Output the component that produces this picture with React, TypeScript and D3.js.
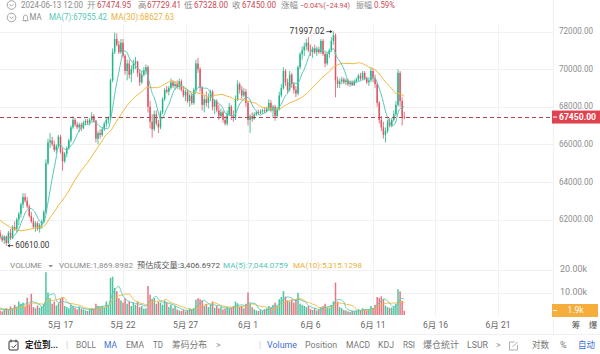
import * as d3 from "d3";
import React, { useEffect, useRef } from "react";

// 4h candles, the first one opens 2024-05-12 04:00
const firstCandle = new Date(2024, 4, 12, 4);
const stepHours = 4;

// closes before the visible window, only used to warm up MA(7)/MA(30)
const priorCloses = [
  63500, 63300, 63000, 63200, 63400, 63100, 62900, 63000, 63200, 63300,
  62800, 62500, 62000, 61500, 61200, 61000, 60900, 61200, 61100, 61300,
  61400, 61200, 61000, 61100, 61300, 61200, 61000, 60900, 61100,
];
const priorVolumes = [3200, 2800, 4100, 3600, 2500, 3000, 2200, 2700, 3400];

const opens = [
  61300, 61050, 60900, 61100, 60750, 61300, 61000, 61600, 61500, 62000,
  62300, 62800, 63200, 63000, 62700, 62200, 61900, 61600, 61800, 61500,
  61700, 61900, 62400, 65000, 66100, 66200, 66000, 65700, 65900, 66400,
  65600, 65100, 65500, 65800, 66200, 66900, 67300, 67050, 66900, 67050,
  66850, 67150, 67250, 67150, 67300, 67500, 67250, 66300, 66600, 66500,
  66800, 67100, 67300, 67400, 69400, 70900, 71600, 71300, 70900, 71400,
  70700, 69900, 70300, 69700, 70000, 70300, 70400, 69800, 69300, 69700,
  69900, 70100, 68000, 67200, 66800, 67600, 67100, 66900, 67700, 68400,
  68900, 68800, 69000, 69300, 69100, 69200, 69050, 69350, 68900, 68600,
  68800, 68300, 68600, 68200, 68900, 70300, 70000, 69000, 68100, 68400,
  68200, 68500, 68800, 68000, 68300, 67800, 67500, 67700, 67300, 67100,
  67600, 68000, 67500, 67400, 68400, 69200, 68900, 68600, 68800, 68200,
  67300, 67500, 67350, 67600, 67700, 67650, 67750, 67800, 67750, 67900,
  68200, 67800, 68000, 67500, 67850, 68600, 69000, 69900, 69300, 68900,
  69700, 69200, 68900, 68700, 70100, 70800, 71000, 71200, 71400, 71000,
  70900, 71100, 70900, 71050, 70900, 71500, 70800, 70300, 70800, 71000,
  71500, 71800, 69400, 69200, 69350, 69450, 69300, 69400, 69200, 69300,
  69150, 69350, 69450, 69650, 69500, 69800, 69500, 69300, 69400, 69900,
  69500, 69200, 68200, 67300, 66900, 66500, 66700, 67200, 67000, 67300,
  67600, 68100, 69800, 68300, 67474.95,
];
const highs = [
  61450, 61200, 61150, 61150, 61400, 61500, 61700, 61900, 62100, 62400,
  62900, 63400, 63400, 63200, 62800, 62400, 62100, 61900, 61900, 61800,
  62000, 62500, 65200, 66300, 66600, 66400, 66200, 66000, 66500, 66500,
  65800, 65600, 65900, 66300, 67000, 67500, 67400, 67200, 67150, 67150,
  67250, 67350, 67350, 67400, 67700, 67600, 67300, 66700, 66800, 66900,
  67200, 67400, 67500, 69500, 71100, 71950, 71900, 71500, 71600, 71600,
  70800, 70500, 70500, 70200, 70500, 70650, 70450, 70000, 69900, 70100,
  70250, 70200, 68300, 67600, 67800, 67800, 67300, 67800, 68500, 69000,
  69100, 69100, 69500, 69400, 69350, 69400, 69500, 69450, 69100, 68900,
  68900, 68700, 68700, 69000, 70500, 70600, 70100, 69100, 68600, 68800,
  68700, 68900, 68900, 68400, 68400, 68100, 67900, 67800, 67500, 67800,
  68200, 68100, 67800, 68600, 69400, 69300, 69100, 69000, 68950, 68300,
  67600, 67700, 67700, 67800, 67850, 67850, 67900, 67950, 68000, 68400,
  68350, 68100, 68100, 68000, 68800, 69200, 70100, 70000, 69500, 69900,
  69800, 69300, 69100, 70200, 70900, 71200, 71400, 71600, 71700, 71300,
  71200, 71300, 71200, 71200, 71600, 71600, 70900, 70900, 71100, 71700,
  71997.02, 71900, 69600, 69500, 69600, 69550, 69500, 69500, 69400, 69400,
  69450, 69550, 69750, 69800, 69900, 69900, 69600, 69500, 70100, 70000,
  69700, 69300, 68300, 67500, 67200, 66900, 67300, 67400, 67400, 67800,
  68300, 70000, 69900, 68500, 67729.41,
];
const lows = [
  60950, 60800, 60700, 60610, 60700, 60900, 60950, 61400, 61300, 61700,
  62100, 62600, 62900, 62600, 62100, 61800, 61500, 61350, 61400, 61300,
  61500, 61800, 62300, 64900, 65800, 65900, 65600, 65500, 65800, 65500,
  64600, 65000, 65300, 65700, 66100, 66800, 66950, 66800, 66650, 66700,
  66800, 67000, 67050, 67000, 67200, 67150, 66100, 66000, 66300, 66400,
  66700, 66900, 67100, 67300, 69300, 70800, 71200, 70800, 70800, 70600,
  69700, 69400, 69500, 69300, 69800, 70000, 69600, 69100, 69200, 69600,
  69700, 67700, 66850, 66350, 66700, 67000, 66600, 66800, 67600, 68300,
  68700, 68600, 68900, 69000, 68900, 68950, 68900, 68800, 68500, 68300,
  68200, 68000, 68100, 68100, 68800, 69800, 68800, 67800, 67700, 68000,
  67900, 68300, 67800, 67600, 67700, 67300, 67400, 67150, 67000, 67000,
  67500, 67300, 67200, 67300, 68300, 68700, 68400, 68500, 68000, 67000,
  66600, 67200, 67300, 67500, 67550, 67600, 67600, 67650, 67700, 67800,
  67700, 67400, 67250, 67400, 67800, 68500, 68900, 69100, 68700, 68800,
  69000, 68700, 68500, 68600, 70000, 70500, 70700, 71000, 70900, 70700,
  70600, 70800, 70700, 70800, 70800, 70700, 70100, 70200, 70600, 70900,
  71300, 68500, 69000, 69000, 69200, 69200, 69150, 69100, 69050, 69100,
  69100, 69250, 69350, 69400, 69400, 69400, 69200, 69100, 69300, 69300,
  69000, 68000, 67100, 66700, 66300, 66100, 66600, 66900, 66900, 67200,
  67500, 68000, 68000, 67000, 67328,
];
const closes = [
  61050, 60900, 61100, 60750, 61300, 61000, 61600, 61500, 62000, 62300,
  62800, 63200, 63000, 62700, 62200, 61900, 61600, 61800, 61500, 61700,
  61900, 62400, 65000, 66100, 66200, 66000, 65700, 65900, 66400, 65600,
  65100, 65500, 65800, 66200, 66900, 67300, 67050, 66900, 67050, 66850,
  67150, 67250, 67150, 67300, 67500, 67250, 66300, 66600, 66500, 66800,
  67100, 67300, 67400, 69400, 70900, 71600, 71300, 70900, 71400, 70700,
  69900, 70300, 69700, 70000, 70300, 70400, 69800, 69300, 69700, 69900,
  70100, 68000, 67200, 66800, 67600, 67100, 66900, 67700, 68400, 68900,
  68800, 69000, 69300, 69100, 69200, 69050, 69350, 68900, 68600, 68800,
  68300, 68600, 68200, 68900, 70300, 70000, 69000, 68100, 68400, 68200,
  68500, 68800, 68000, 68300, 67800, 67500, 67700, 67300, 67100, 67600,
  68000, 67500, 67400, 68400, 69200, 68900, 68600, 68800, 68200, 67300,
  67500, 67350, 67600, 67700, 67650, 67750, 67800, 67750, 67900, 68200,
  67800, 68000, 67500, 67850, 68600, 69000, 69900, 69300, 68900, 69700,
  69200, 68900, 68700, 70100, 70800, 71000, 71200, 71400, 71000, 70900,
  71100, 70900, 71050, 70900, 71500, 70800, 70300, 70800, 71000, 71500,
  71800, 69400, 69200, 69350, 69450, 69300, 69400, 69200, 69300, 69150,
  69350, 69450, 69650, 69500, 69800, 69500, 69300, 69400, 69900, 69500,
  69200, 68200, 67300, 66900, 66500, 66700, 67200, 67000, 67300, 67600,
  68100, 69800, 68300, 67474.94, 67450,
];
const volumes = [
  2000, 1600, 2300, 3000, 2500, 3800, 2800, 4500, 3500, 6000,
  5000, 5500, 3800, 7600, 4500, 9400, 3500, 3000, 4200, 3200,
  3800, 5000, 19000, 10000, 7500, 5000, 6000, 4200, 5200, 7500,
  8000, 4000, 3500, 3000, 4500, 4000, 3200, 2500, 3600, 2800,
  2500, 2000, 1800, 2600, 3000, 2800, 5000, 4000, 3500, 4000,
  3500, 6000, 4500, 16500, 17000, 12000, 10600, 7500, 6500, 5500,
  7500, 5000, 6000, 4000, 5500, 4500, 6000, 3500, 4000, 2800,
  3000, 12900, 9000, 7000, 7500, 5000, 6000, 5500, 4500, 6500,
  5500, 3500, 4500, 3000, 4000, 2500, 2000, 1800, 2300, 1600,
  2000, 3000, 2500, 3000, 6800, 7500, 7000, 6500, 4000, 5000,
  3500, 4500, 6000, 3200, 4000, 3000, 3500, 2500, 2800, 3500,
  3000, 3200, 4000, 6000, 5200, 3500, 4000, 3000, 5000, 10000,
  5000, 3500, 2500, 2000, 1800, 2200, 1800, 2500, 3000, 4000,
  3500, 4500, 5500, 4000, 7000, 8000, 10600, 8200, 6500, 6000,
  6800, 5500, 7000, 9800, 5000, 4500, 4000, 3500, 4000, 2600,
  2200, 3000, 2000, 2500, 3500, 4000, 5000, 3200, 3000, 4500,
  6000, 14400, 6000, 3500, 3000, 2200, 2000, 1600, 1400, 1800,
  1600, 2000, 2500, 2200, 3000, 2400, 2000, 2600, 4000, 3000,
  4500, 8000, 7600, 8300, 7000, 4200, 3500, 3100, 3300, 3830,
  5000, 11500, 10500, 6350, 1869.8982,
];

const priceTicks = [62000, 64000, 66000, 68000, 70000, 72000];
const volumeTicks = [10000, 20000];
const dateTicks = [
  new Date(2024, 4, 17), new Date(2024, 4, 22), new Date(2024, 4, 27),
  new Date(2024, 5, 1), new Date(2024, 5, 6), new Date(2024, 5, 11),
  new Date(2024, 5, 16), new Date(2024, 5, 21),
];
const lastPrice = 67450;
// legend readouts as printed in the terminal
const headerMa = ["MA(7):67955.42", "MA(30):68627.63"];
const volumeLegend = ["预估成交量:3,406.6972", "MA(5):7,044.0759", "MA(10):5,315.1298"];

const GREEN = "#22b58a";
const RED = "#de5563";
const MA_SHORT = "#56c8b6";
const MA_LONG = "#f0b83c";
const FONT = "Roboto, 'Noto Sans CJK SC', sans-serif";

function movingAverage(values: number[], n: number, skip: number) {
  const out: (number | null)[] = [];
  for (let i = skip; i < values.length; i++) {
    out.push(i < n - 1 ? null : (d3.mean(values.slice(i - n + 1, i + 1)) as number));
  }
  return out;
}

export default function App() {
  const ref = useRef<SVGSVGElement>(null);

  useEffect(() => {
    const width = 600;
    const height = 354;
    const plotRight = 553;
    const svg = d3.select(ref.current);
    svg.selectAll("*").remove();
    svg.attr("width", width).attr("height", height);

    const times = closes.map((_, i) => new Date(firstCandle.getTime() + i * stepHours * 3600e3));

    const x = d3
      .scaleTime()
      .domain([new Date(2024, 4, 17), new Date(2024, 5, 11)])
      .range([60.5, 373]);
    const y = d3.scaleLinear().domain([62000, 72000]).range([219.5, 31.5]);
    const yVol = d3.scaleLinear().domain([0, 20000]).range([315, 270]);

    // text helper; w squeezes the string into a measured width
    const text = (
      g: any,
      px: number,
      py: number,
      str: string,
      fill: string,
      size = 8.5,
      anchor = "start",
      w = 0,
      weight = "normal"
    ) => {
      const t = g
        .append("text")
        .attr("x", px)
        .attr("y", py)
        .attr("fill", fill)
        .attr("font-size", size)
        .attr("font-family", FONT)
        .attr("font-weight", weight)
        .attr("text-anchor", anchor)
        .attr("dominant-baseline", "middle")
        .text(str);
      if (w) t.attr("textLength", w).attr("lengthAdjust", "spacingAndGlyphs");
      return t;
    };

    svg.append("rect").attr("width", width).attr("height", height).attr("fill", "#fff");

    // grid
    const grid = svg.append("g").attr("stroke", "#f1f1f1").attr("stroke-width", 1);
    dateTicks.forEach((d) => {
      const gx = Math.round(x(d)) + 0.5;
      grid.append("line").attr("x1", gx).attr("x2", gx).attr("y1", 25).attr("y2", 316);
    });
    priceTicks.forEach((p) => {
      grid.append("line").attr("x1", 0).attr("x2", plotRight).attr("y1", Math.round(y(p)) + 0.5).attr("y2", Math.round(y(p)) + 0.5);
    });
    volumeTicks.forEach((v) => {
      grid.append("line").attr("x1", 0).attr("x2", plotRight).attr("y1", Math.round(yVol(v)) + 0.5).attr("y2", Math.round(yVol(v)) + 0.5);
    });
    grid.append("line").attr("x1", plotRight + 0.5).attr("x2", plotRight + 0.5).attr("y1", 0).attr("y2", 334);
    grid.append("line").attr("x1", 0).attr("x2", width).attr("y1", 334.5).attr("y2", 334.5);

    // clip panes
    const defs = svg.append("defs");
    defs.append("clipPath").attr("id", "pricePane").append("rect").attr("x", 0).attr("y", 24).attr("width", plotRight).attr("height", 230);
    defs.append("clipPath").attr("id", "volPane").append("rect").attr("x", 0).attr("y", 260).attr("width", plotRight).attr("height", 56);

    // candles
    const candles = svg.append("g").attr("clip-path", "url(#pricePane)");
    closes.forEach((c, i) => {
      const cx = x(times[i]);
      const up = c >= opens[i];
      const col = up ? GREEN : RED;
      candles
        .append("line")
        .attr("x1", cx)
        .attr("x2", cx)
        .attr("y1", y(highs[i]))
        .attr("y2", y(lows[i]))
        .attr("stroke", col)
        .attr("stroke-width", 0.8);
      const top = y(Math.max(c, opens[i]));
      const bot = y(Math.min(c, opens[i]));
      candles
        .append("rect")
        .attr("x", cx - 0.75)
        .attr("width", 1.5)
        .attr("y", top)
        .attr("height", Math.max(0.8, bot - top))
        .attr("fill", col);
    });

    // moving averages on price
    const allCloses = [...priorCloses, ...closes];
    const ma7 = movingAverage(allCloses, 7, priorCloses.length);
    const ma30 = movingAverage(allCloses, 30, priorCloses.length);
    const priceLine = d3
      .line<number | null>()
      .defined((d) => d != null)
      .x((_, i) => x(times[i]))
      .y((d) => y(d as number))
      .curve(d3.curveMonotoneX);
    candles.append("path").attr("d", priceLine(ma30)).attr("fill", "none").attr("stroke", MA_LONG).attr("stroke-width", 1);
    candles.append("path").attr("d", priceLine(ma7)).attr("fill", "none").attr("stroke", MA_SHORT).attr("stroke-width", 1);

    // last price line
    svg
      .append("line")
      .attr("x1", 0)
      .attr("x2", plotRight)
      .attr("y1", Math.round(y(lastPrice)) + 0.5)
      .attr("y2", Math.round(y(lastPrice)) + 0.5)
      .attr("stroke", "#b9434d")
      .attr("stroke-dasharray", "4,3")
      .attr("stroke-width", 1);

    // high / low markers
    const hiIdx = d3.maxIndex(highs);
    const loIdx = d3.minIndex(lows);
    const hx = x(times[hiIdx]);
    const hy = y(highs[hiIdx]);
    text(svg, hx - 9, hy, d3.format(".2f")(highs[hiIdx]), "#333", 8.5, "end", 35);
    svg.append("line").attr("x1", hx - 7).attr("x2", hx - 2).attr("y1", hy).attr("y2", hy).attr("stroke", "#333").attr("stroke-width", 0.8);
    svg.append("path").attr("d", `M${hx - 1},${hy} l-2.5,-1.6 v3.2 z`).attr("fill", "#333");
    const lx = x(times[loIdx]);
    const ly = y(lows[loIdx]);
    svg.append("line").attr("x1", lx + 2).attr("x2", lx + 7).attr("y1", ly).attr("y2", ly).attr("stroke", "#333").attr("stroke-width", 0.8);
    svg.append("path").attr("d", `M${lx + 1},${ly} l2.5,-1.6 v3.2 z`).attr("fill", "#333");
    text(svg, lx + 9, ly, d3.format(".2f")(lows[loIdx]), "#333", 8.5, "start", 34);

    // volume
    const vol = svg.append("g").attr("clip-path", "url(#volPane)");
    volumes.forEach((v, i) => {
      const cx = x(times[i]);
      const up = closes[i] >= opens[i];
      vol
        .append("rect")
        .attr("x", cx - 0.75)
        .attr("width", 1.5)
        .attr("y", yVol(v))
        .attr("height", yVol(0) - yVol(v))
        .attr("fill", up ? GREEN : RED)
        .attr("opacity", 0.8);
    });
    const allVols = [...priorVolumes, ...volumes];
    const vma5 = movingAverage(allVols, 5, priorVolumes.length);
    const vma10 = movingAverage(allVols, 10, priorVolumes.length);
    const volLine = d3
      .line<number | null>()
      .defined((d) => d != null)
      .x((_, i) => x(times[i]))
      .y((d) => yVol(d as number))
      .curve(d3.curveMonotoneX);
    vol.append("path").attr("d", volLine(vma10)).attr("fill", "none").attr("stroke", MA_LONG).attr("stroke-width", 0.9);
    vol.append("path").attr("d", volLine(vma5)).attr("fill", "none").attr("stroke", MA_SHORT).attr("stroke-width", 0.9);

    // price axis
    priceTicks.forEach((p) => text(svg, 559, y(p) + 0.5, d3.format(".2f")(p), "#8c8c8c", 8.5, "start", 34));
    svg.append("rect").attr("x", 552).attr("y", y(lastPrice) - 6.5).attr("width", 48).attr("height", 13).attr("fill", "#e0434f");
    svg.append("line").attr("x1", 553).attr("x2", 557).attr("y1", y(lastPrice)).attr("y2", y(lastPrice)).attr("stroke", "#fff");
    text(svg, 559, y(lastPrice) + 0.5, d3.format(".2f")(lastPrice), "#fff", 8.5, "start", 37, "bold");

    // volume axis
    volumeTicks.forEach((v) => text(svg, 560, yVol(v), d3.format(".2f")(v / 1000) + "k", "#8c8c8c", 8.5, "start", 27));
    const lastVol = volumes[volumes.length - 1];
    svg.append("rect").attr("x", 552).attr("y", 304).attr("width", 46).attr("height", 13).attr("fill", "#f5ad3b");
    svg.append("line").attr("x1", 553).attr("x2", 557).attr("y1", 310.5).attr("y2", 310.5).attr("stroke", "#fff");
    text(svg, 575.5, 311, d3.format(".1f")(lastVol / 1000) + "k", "#fff", 8.5, "middle");

    // date axis
    const fmtDate = (d: Date) => `${d.getMonth() + 1}月 ${d.getDate()}`;
    dateTicks.forEach((d) => text(svg, x(d), 326, fmtDate(d), "#666", 8.5, "middle"));
    text(svg, 576, 326, "筹", "#555", 8.5, "middle");
    text(svg, 593, 326, "爆", "#555", 8.5, "middle");

    // header line 1
    const hdr = svg.append("g");
    const chevronIcon = (cx: number, cy: number) => {
      hdr.append("circle").attr("cx", cx).attr("cy", cy).attr("r", 4.3).attr("fill", "none").attr("stroke", "#999").attr("stroke-width", 0.9);
      hdr.append("path").attr("d", `M${cx - 2},${cy - 0.8} l2,2 l2,-2`).attr("fill", "none").attr("stroke", "#999").attr("stroke-width", 0.9);
    };
    chevronIcon(11.5, 5);
    const lastIdx = closes.length - 1;
    const prevClose = closes[lastIdx - 1];
    const chg = closes[lastIdx] - prevClose;
    const gray = "#8a8a8a";
    const red = "#c94b55";
    const f2 = d3.format(".2f");
    text(hdr, 21, 5.5, "2024-06-13 12:00", gray, 8.5, "start", 62);
    text(hdr, 87, 5.5, "开", gray);
    text(hdr, 97, 5.5, f2(opens[lastIdx]), red, 8.5, "start", 34);
    text(hdr, 138, 5.5, "高", gray);
    text(hdr, 147, 5.5, f2(highs[lastIdx]), red, 8.5, "start", 34);
    text(hdr, 184, 5.5, "低", gray);
    text(hdr, 194, 5.5, f2(lows[lastIdx]), red, 8.5, "start", 34);
    text(hdr, 232, 5.5, "收", gray);
    text(hdr, 242, 5.5, f2(closes[lastIdx]), red, 8.5, "start", 34);
    text(hdr, 281, 5.5, "涨幅", gray, 8.5, "start", 17);
    text(hdr, 300, 5.5, `${f2((chg / prevClose) * 100)}%(${f2(chg)})`, red, 7.6, "start", 50);
    text(hdr, 356, 5.5, "振幅", gray, 8.5, "start", 16);
    text(hdr, 374, 5.5, f2(((highs[lastIdx] - lows[lastIdx]) / prevClose) * 100) + "%", red, 8.5, "start", 21);

    // header line 2
    chevronIcon(11.5, 17.5);
    hdr
      .append("path")
      .attr("d", "M22.5,20.5 h6 l-1,-1.3 v-2.2 a2,2 0 0 0 -4,0 v2.2 z M24.8,21.3 h1.4")
      .attr("fill", "none")
      .attr("stroke", "#999")
      .attr("stroke-width", 0.8);
    text(hdr, 29.5, 18, "MA", gray, 8.5, "start", 12);
    text(hdr, 49, 18, headerMa[0], MA_SHORT, 8.5, "start", 58);
    text(hdr, 111, 18, headerMa[1], "#eab13c", 8.5, "start", 63);

    // volume header
    text(hdr, 10, 266, "VOLUME", gray, 8, "start", 32);
    hdr.append("path").attr("d", "M48.5,265 h4.5 l-2.25,2.5 z").attr("fill", gray);
    text(hdr, 59, 266, "VOLUME:" + d3.format(",.4f")(lastVol), gray, 8, "start", 74);
    text(hdr, 137, 266, volumeLegend[0], "#555", 8, "start", 83);
    text(hdr, 223, 266, volumeLegend[1], MA_SHORT, 8, "start", 65);
    text(hdr, 293, 266, volumeLegend[2], "#eab13c", 8, "start", 69);

    // bottom toolbar
    const bar = svg.append("g");
    bar.append("rect").attr("x", 9).attr("y", 341).attr("width", 9).attr("height", 9).attr("rx", 1).attr("fill", "none").attr("stroke", "#333").attr("stroke-width", 1);
    bar.append("path").attr("d", "M11,339.5 v3 M16,339.5 v3 M11.5,346 l1.8,1.8 l3,-3.2").attr("fill", "none").attr("stroke", "#333").attr("stroke-width", 0.9);
    text(bar, 25, 346, "定位到...", "#222", 9, "start", 33, "bold");
    text(bar, 66, 346, "|", "#ccc", 9);
    const tools: [number, string, string, number][] = [
      [76, "BOLL", "#777", 20], [104, "MA", "#3e6fd8", 13], [126, "EMA", "#777", 18], [153, "TD", "#777", 10],
      [172, "筹码分布", "#777", 35], [216, ">", "#999", 0], [259, "|", "#ccc", 0], [267, "Volume", "#3e6fd8", 30],
      [305, "Position", "#777", 32], [346, "MACD", "#777", 24], [378, "KDJ", "#777", 16], [403, "RSI", "#777", 12],
      [423, "爆仓统计", "#777", 36], [467, "LSUR", "#777", 21], [496, ">", "#999", 0], [532, "对数", "#777", 17],
      [560, "%", "#777", 0], [578, "自动", "#3e6fd8", 17],
    ];
    tools.forEach(([tx, label, col, w]) => text(bar, tx, 346, label, col, 9, "start", w));
    bar.append("path").attr("d", "M509.5,342 h5 M509.5,342 v8 h8 v-5 M512.5,347 l5,-5").attr("fill", "none").attr("stroke", "#999").attr("stroke-width", 0.8);
  }, []);

  return (
    <svg
      ref={ref}
      style={{ position: "absolute", left: 0, top: 0, display: "block" }}
    ></svg>
  );
}
